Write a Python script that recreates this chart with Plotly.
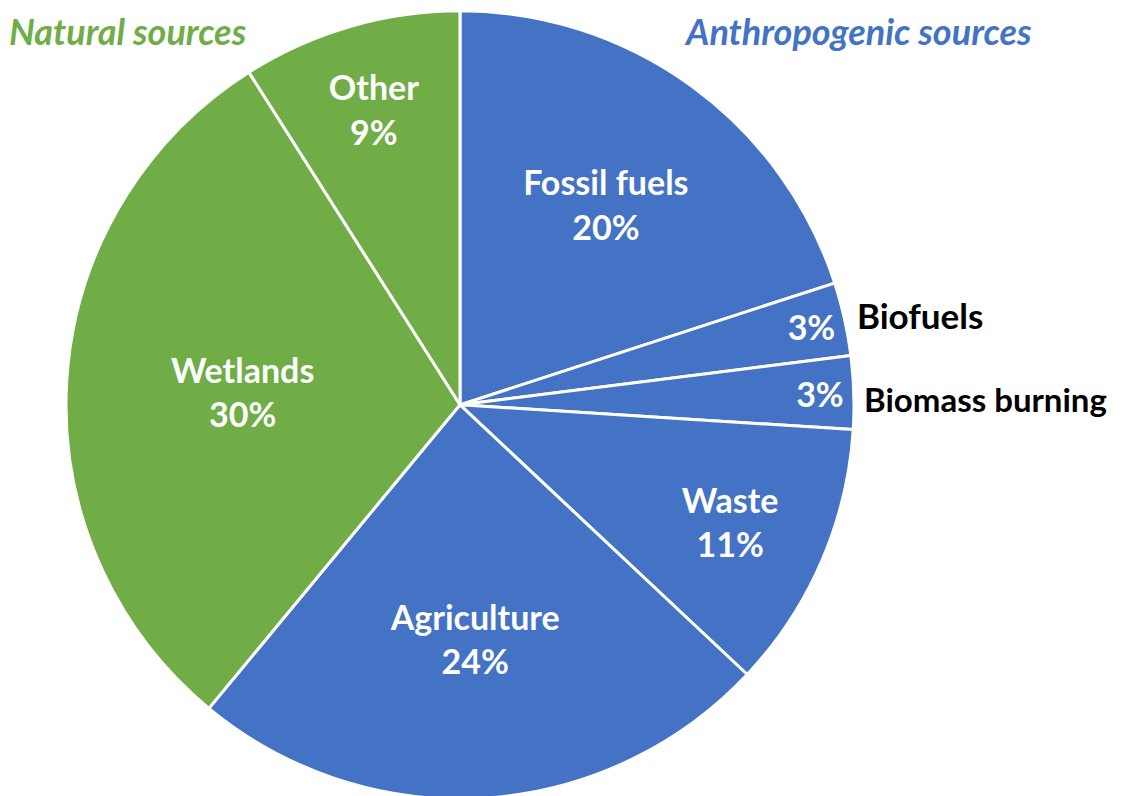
import plotly.graph_objects as go

SOURCES = ["Fossil fuels", "Biofuels", "Biomass burning", "Waste", "Agriculture", "Wetlands", "Other"]
SHARES = [20, 3, 3, 11, 24, 30, 9]
GROUP = ["Anthropogenic", "Anthropogenic", "Anthropogenic", "Anthropogenic", "Anthropogenic", "Natural", "Natural"]

BLUE = "#4472C4"
GREEN = "#70AD47"
FONT = "Lato, 'Open Sans', sans-serif"

colors = [BLUE if g == "Anthropogenic" else GREEN for g in GROUP]
# the two thin slices only carry the percentage, their names sit outside
texts = [f"{s}%" if v < 5 else f"{n}<br>{s}%" for n, s, v in zip(SOURCES, SHARES, SHARES)]

fig = go.Figure(
    go.Pie(
        labels=SOURCES,
        values=SHARES,
        text=texts,
        texttemplate="%{text}",
        textposition="inside",
        insidetextorientation="horizontal",
        sort=False,
        direction="clockwise",
        rotation=0,
        marker={"colors": colors, "line": {"color": "white", "width": 3}},
        textfont={"family": FONT, "size": 34, "color": "white", "weight": "bold"},
        domain={"x": [58 / 1125, 846 / 1125], "y": [0.004, 0.999]},
        hoverinfo="label+percent",
    )
)

annotations = [
    dict(text="<b><i>Natural sources</i></b>", x=0.0, y=1.0, xanchor="left", yanchor="top",
         borderpad=0, font={"color": GREEN, "size": 36}),
    dict(text="<b><i>Anthropogenic sources</i></b>", x=675 / 1125, y=1.0, xanchor="left", yanchor="top",
         borderpad=0, font={"color": BLUE, "size": 36}),
    dict(text="<b>Biofuels</b>", x=847 / 1125, y=1 - 307 / 796, xanchor="left", yanchor="middle",
         font={"color": "black", "size": 35}),
    dict(text="<b>Biomass burning</b>", x=854 / 1125, y=1 - 391 / 796, xanchor="left", yanchor="middle",
         font={"color": "black", "size": 33}),
]
for a in annotations:
    a.update(xref="paper", yref="paper", showarrow=False)
    a["font"]["family"] = FONT

fig.update_layout(
    width=1125,
    height=796,
    margin={"l": 0, "r": 0, "t": 0, "b": 0},
    paper_bgcolor="white",
    showlegend=False,
    annotations=annotations,
)

fig.write_html("out.html")
